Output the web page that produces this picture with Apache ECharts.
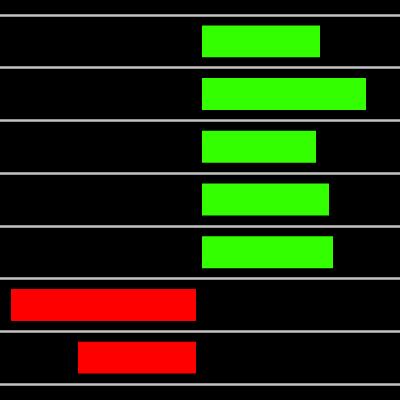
<!DOCTYPE html>
<html><head><meta charset="utf-8">
<script src="https://cdn.jsdelivr.net/npm/echarts@6/dist/echarts.min.js"></script>
<style>html,body{margin:0;padding:0;background:#000;}#c{width:400px;height:400px;}</style>
</head><body><div id="c"></div>
<script>
const categories = ['1', '2', '3', '4', '5', '6', '7'];
const values = [62, 85, 60, 66.5, 68.5, -95.5, -62];

const chart = echarts.init(document.getElementById('c'));
chart.setOption({
  backgroundColor: '#000',
  animation: false,
  grid: { left: 0, right: 0, top: 15, bottom: 16 },
  xAxis: { type: 'value', min: -99.5, max: 100.5, show: false },
  yAxis: {
    type: 'category', data: categories, inverse: true,
    axisLine: { show: false }, axisTick: { show: false }, axisLabel: { show: false },
    splitLine: { show: true, lineStyle: { color: '#c4c4c4', width: 2.5 } }
  },
  series: [{
    type: 'bar',
    data: values,
    barCategoryGap: '28%',
    itemStyle: {
      borderColor: '#000', borderWidth: 3,
      color: p => p.value >= 0 ? '#33ff00' : '#ff0000'
    }
  }]
});
</script></body></html>
